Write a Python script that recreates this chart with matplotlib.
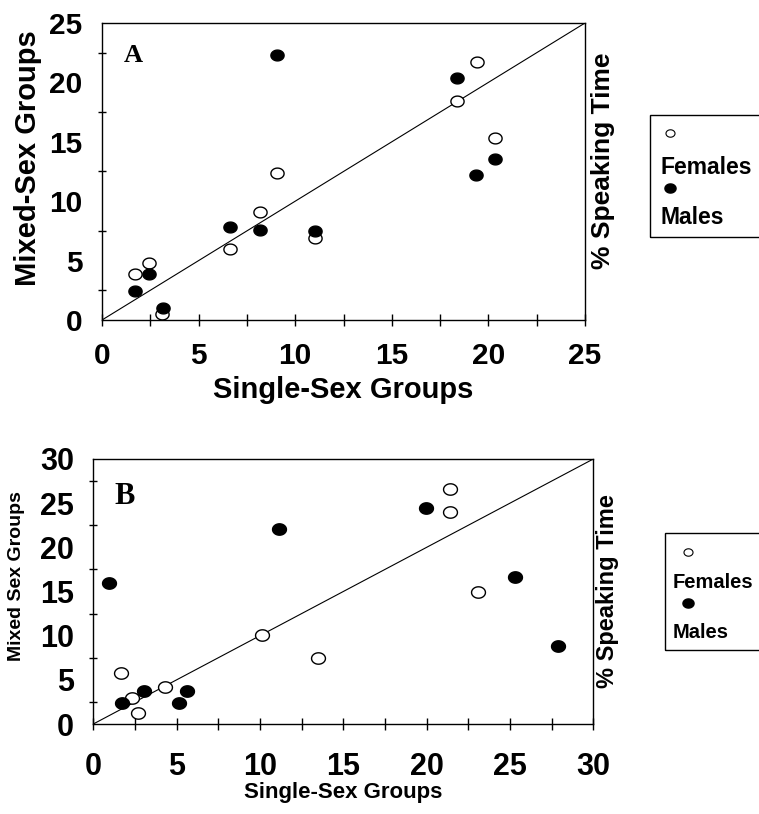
import numpy as np
import matplotlib
matplotlib.use("Agg")
import matplotlib.pyplot as plt
from matplotlib.path import Path
from matplotlib.patches import Rectangle
from matplotlib.lines import Line2D

plt.rcParams["font.family"] = ["Liberation Sans", "DejaVu Sans"]

# Panel A: % speaking time, single-sex vs mixed-sex groups
a_female_single = [1.7, 2.45, 3.1, 6.6, 8.2, 9.05, 11.05, 18.4, 19.4, 20.35]
a_female_mixed = [3.9, 4.8, 0.5, 5.95, 9.1, 12.4, 6.9, 18.4, 21.75, 15.3]
a_male_single = [1.7, 2.45, 3.15, 6.6, 8.2, 9.05, 11.05, 18.4, 19.35, 20.35]
a_male_mixed = [2.4, 3.9, 1.0, 7.8, 7.6, 22.3, 7.45, 20.4, 12.2, 13.55]

# Panel B
b_female_single = [1.65, 2.35, 2.7, 4.3, 10.1, 13.5, 21.4, 21.4, 23.1]
b_female_mixed = [5.8, 3.0, 1.3, 4.2, 10.1, 7.5, 26.6, 24.0, 15.0]
b_male_single = [0.95, 1.7, 3.05, 5.15, 5.65, 11.15, 19.95, 25.3, 27.9]
b_male_mixed = [16.0, 2.4, 3.7, 2.4, 3.7, 22.1, 24.5, 16.6, 8.8]

# slightly wide ellipse, like the scanned markers
t = np.linspace(0, 2 * np.pi, 60)
ellipse = Path(np.column_stack([np.cos(t), 0.82 * np.sin(t)]), closed=True)


def draw_panel(ax, fx, fy, mx, my, limit, letter, letter_xy, letter_size,
               tick_size, label_size, xlabel, ylabel, side_size, side_xy,
               msize, xpad, xlabelpad, ylabel_xy):
    ax.plot([0, limit], [0, limit], color="black", lw=0.8, zorder=1)
    ax.plot(fx, fy, linestyle="none", marker=ellipse, markersize=msize,
            markerfacecolor="white", markeredgecolor="black",
            markeredgewidth=1.0, zorder=3)
    ax.plot(mx, my, linestyle="none", marker=ellipse, markersize=msize,
            markerfacecolor="black", markeredgecolor="black", zorder=3)

    ax.set_xlim(0, limit)
    ax.set_ylim(0, limit)
    ax.set_xticks(np.arange(0, limit + 0.1, 5))
    ax.set_xticks(np.arange(2.5, limit, 5), minor=True)
    ax.set_yticks(np.arange(0, limit + 0.1, 5))
    ax.set_yticks(np.arange(2.5, limit, 5), minor=True)
    ax.tick_params(axis="x", which="both", direction="inout", length=8,
                   width=1, labelsize=tick_size, pad=xpad)
    ax.tick_params(axis="y", which="major", length=0, labelsize=tick_size,
                   pad=14)
    ax.tick_params(axis="y", which="minor", direction="inout", length=6,
                   width=1)
    for lab in ax.get_xticklabels() + ax.get_yticklabels():
        lab.set_fontweight("bold")
    for sp in ax.spines.values():
        sp.set_linewidth(1.0)

    ax.set_xlabel(xlabel, fontsize=label_size[0], fontweight="bold",
                  labelpad=xlabelpad)
    ax.set_ylabel(ylabel, fontsize=label_size[1], fontweight="bold")
    ax.yaxis.set_label_coords(*ylabel_xy)
    ax.text(letter_xy[0], letter_xy[1], letter, fontsize=letter_size,
            fontweight="bold", family="Liberation Serif",
            ha="center", va="center")
    ax.text(side_xy[0], side_xy[1], "% Speaking Time", transform=ax.transAxes,
            rotation=90, fontsize=side_size, fontweight="bold",
            ha="center", va="center")


def draw_key(fig, box, open_xy, text1_xy, fill_xy, text2_xy, size):
    w, h = 759.0, 814.0
    x0, y0, x1, y1 = box
    fig.patches.append(Rectangle((x0 / w, 1 - y1 / h), (x1 - x0) / w,
                                 (y1 - y0) / h, transform=fig.transFigure,
                                 fill=False, edgecolor="black", lw=1.0))
    fig.add_artist(Line2D([open_xy[0] / w], [1 - open_xy[1] / h],
                          marker=ellipse, markersize=6.5,
                          markerfacecolor="white", markeredgecolor="black",
                          markeredgewidth=0.8, transform=fig.transFigure))
    fig.add_artist(Line2D([fill_xy[0] / w], [1 - fill_xy[1] / h],
                          marker=ellipse, markersize=8,
                          markerfacecolor="black", markeredgecolor="black",
                          transform=fig.transFigure))
    fig.text(text1_xy[0] / w, 1 - text1_xy[1] / h, "Females", fontsize=size,
             fontweight="bold", ha="left", va="center")
    fig.text(text2_xy[0] / w, 1 - text2_xy[1] / h, "Males", fontsize=size,
             fontweight="bold", ha="left", va="center")


fig = plt.figure(figsize=(7.59, 8.14), dpi=100)

ax_a = fig.add_axes([102 / 759, 1 - 320 / 814, 483 / 759, 297 / 814])
draw_panel(ax_a, a_female_single, a_female_mixed, a_male_single, a_male_mixed,
           25, "A", (1.6, 22.3), 19, 21.5, (21, 21), "Single-Sex Groups",
           "Mixed-Sex Groups", 19, (1.038, 0.535), 9.5, 12, 4,
           (-0.125, 0.545))

ax_b = fig.add_axes([93.3 / 759, 1 - 724 / 814, 500 / 759, 265 / 814])
draw_panel(ax_b, b_female_single, b_female_mixed, b_male_single, b_male_mixed,
           30, "B", (1.9, 25.8), 22, 22, (16, 14), "Single-Sex Groups",
           "Mixed Sex Groups", 17, (1.028, 0.50), 10, 16, 0,
           (-0.137, 0.56))

draw_key(fig, (650, 115, 770, 237), (670, 133), (660, 167), (670, 188),
         (660, 218), 16.5)
draw_key(fig, (665, 533, 770, 650), (688, 552), (673, 582), (688, 603),
         (673, 633), 14.5)

fig.savefig("out.png", dpi=100)
